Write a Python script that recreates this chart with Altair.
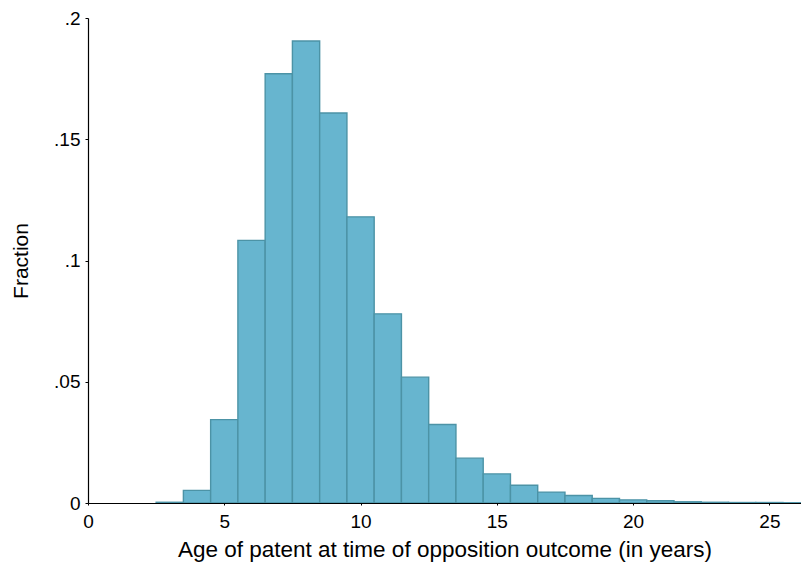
import altair as alt
import pandas as pd

# Histogram bins (centre of each unit-wide bin, in years) and their fractions
bin_centers = [3, 4, 5, 6, 7, 8, 9, 10, 11, 12, 13, 14, 15, 16, 17, 18, 19, 20, 21, 22, 23, 24, 25, 26]
fractions = [0.0003, 0.0052, 0.0344, 0.1083, 0.1770, 0.1905, 0.1608, 0.1180, 0.0780, 0.0519,
             0.0324, 0.0185, 0.0120, 0.0073, 0.0045, 0.0031, 0.0019, 0.0013, 0.0009, 0.0005,
             0.0003, 0.0002, 0.0002, 0.0001]
bin_width = 1.0

x_ticks = [0, 5, 10, 15, 20, 25]
y_ticks = [0, 0.05, 0.1, 0.15, 0.2]

df = pd.DataFrame({
    "lo": [c - bin_width / 2 for c in bin_centers],
    "hi": [c + bin_width / 2 for c in bin_centers],
    "frac": fractions,
})

label_expr = "datum.value == 0 ? '0' : replace(format(datum.value, '.2~f'), /^0/, '')"

chart = alt.Chart(df).mark_rect(
    fill="#67b5cf", stroke="#4c93a6", strokeWidth=1.4, clip=True
).encode(
    x=alt.X("lo:Q", scale=alt.Scale(domain=[0, 26.16], nice=False, zero=False),
            axis=alt.Axis(values=x_ticks, title="Age of patent at time of opposition outcome (in years)",
                          grid=False, tickSize=2, labelPadding=7, titlePadding=7,
                          labelFontSize=19, titleFontSize=22.5, labelFlush=False,
                          titleFontWeight="normal")),
    x2="hi:Q",
    y=alt.Y("frac:Q", scale=alt.Scale(domain=[0, 0.2], nice=False),
            axis=alt.Axis(values=y_ticks, labelExpr=label_expr, title="Fraction",
                          grid=False, tickSize=3, labelPadding=5, titlePadding=22,
                          labelFontSize=19, titleFontSize=21, labelFlush=False,
                          titleFontWeight="normal")),
    y2=alt.datum(0),
).properties(
    width=713,
    height=485,
    background="white",
    autosize=alt.AutoSizeParams(type="none"),
    padding={"left": 88, "top": 18, "right": 0, "bottom": 59},
).configure_view(
    stroke=None
).configure_axis(
    domainColor="black", domainWidth=1.2, tickColor="black", tickWidth=1,
    labelColor="black", titleColor="black",
    labelFont="Liberation Sans", titleFont="Liberation Sans",
    titleFontWeight="normal"
)

chart.save("out.html", embed_options={"renderer": "svg", "actions": False})
